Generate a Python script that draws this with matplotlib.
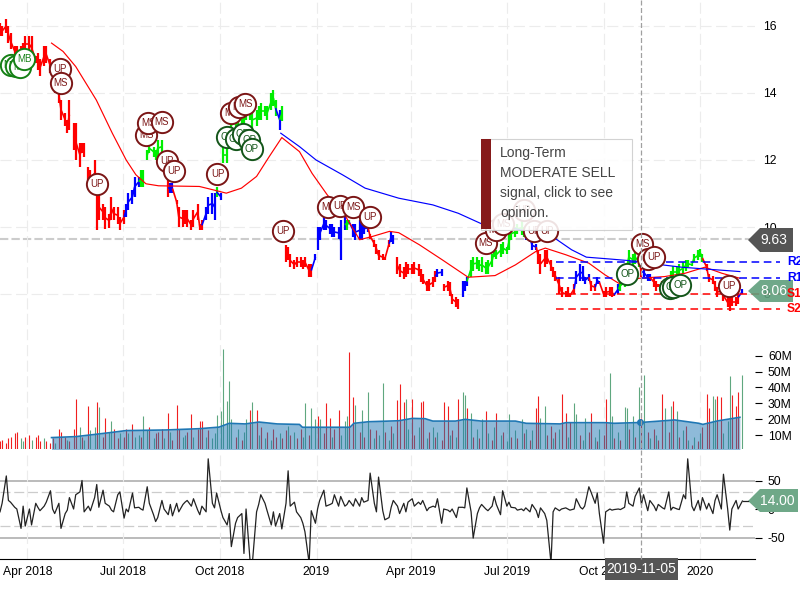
import numpy as np
import pandas as pd
import matplotlib
matplotlib.use('Agg')  # no display here
import matplotlib.pyplot as plt
import matplotlib.dates as mdates
from matplotlib.collections import LineCollection
from matplotlib.patches import Polygon, Rectangle

plt.rcParams['font.family'] = ['Liberation Sans', 'DejaVu Sans']

# one entry every two business days
first_date = '2018-03-06'
price_high = [
    16.1, 16.0, 16.2, 16.0, 15.8, 15.4, 15.4, 15.4, 15.5, 15.7, 15.7, 15.7, 15.1, 15.2, 15.0, 15.4,
    15.4, 15.0, 14.8, 14.5, 14.2, 13.8, 13.4, 13.2, 13.8, 13.1, 13.1, 12.5, 12.5, 12.5, 11.8, 11.7,
    12.0, 11.3, 11.0, 10.7, 10.6, 10.4, 10.9, 10.6, 10.6, 10.3, 10.5, 10.7, 11.0, 11.1, 11.5, 11.5,
    11.7, 11.7, 12.3, 12.5, 12.4, 12.3, 12.6, 12.6, 12.0, 11.4, 11.3, 11.3, 10.8, 10.6, 10.5, 10.5,
    10.5, 10.2, 10.5, 10.7, 10.1, 10.2, 10.6, 10.9, 11.0, 11.0, 11.2, 11.0, 12.4, 12.4, 12.9, 13.2,
    13.3, 13.3, 13.5, 13.4, 13.6, 13.7, 13.5, 13.5, 13.6, 13.7, 13.6, 13.6, 14.0, 14.1, 13.8, 13.5,
    13.6, 9.45, 9.4, 9.2, 9.0, 9.1, 9.1, 9.0, 9.1, 8.9, 8.9, 9.2, 10.0, 10.0, 10.3, 10.2,
    10.1, 10.1, 10.0, 10.0, 10.2, 10.3, 10.2, 10.2, 10.1, 10.1, 10.2, 10.2, 10.1, 10.1, 9.8, 9.6,
    9.5, 9.3, 9.2, 9.1, 9.6, 9.85, 9.75, 9.1, 8.9, 8.8, 8.95, 8.9, 8.9, 8.95, 8.9, 8.75,
    8.6, 8.4, 8.45, 8.5, 8.7, 8.75, 8.75, 8.3, 8.4, 8.35, 8.0, 7.9, 7.85, 8.4, 8.4, 8.5,
    9.0, 9.1, 9.1, 9.0, 9.1, 8.95, 9.0, 9.2, 9.4, 9.3, 9.5, 9.55, 9.4, 9.8, 10.0, 10.0,
    10.1, 10.2, 10.0, 9.8, 9.85, 9.6, 9.5, 9.3, 9.2, 9.3, 9.3, 9.0, 8.8, 8.7, 8.5, 8.2,
    8.1, 8.2, 8.0, 8.3, 8.7, 8.9, 8.85, 8.5, 8.6, 8.4, 8.3, 8.5, 8.4, 8.1, 8.2, 8.2,
    8.2, 8.0, 8.3, 8.4, 8.5, 8.9, 9.3, 9.2, 9.3, 9.1, 8.8, 8.8, 8.6, 8.6, 8.5, 8.4,
    8.3, 8.4, 8.2, 8.5, 8.7, 8.85, 8.8, 8.9, 8.95, 9.0, 9.0, 8.9, 9.2, 9.3, 9.35, 9.2,
    8.9, 8.6, 8.55, 8.4, 8.2, 8.2, 8.1, 7.9, 7.95, 7.9, 7.9, 8.1, 8.15,
]
price_low = [
    15.7, 15.7, 15.8, 15.5, 15.3, 15.1, 15.1, 15.0, 15.1, 15.2, 15.2, 15.0, 14.9, 14.7, 14.5, 14.8,
    14.9, 14.6, 14.4, 14.0, 13.7, 13.2, 13.0, 12.8, 12.9, 12.3, 12.0, 11.8, 12.2, 12.1, 11.4, 11.2,
    11.2, 9.9, 10.2, 10.2, 9.95, 9.98, 10.2, 10.2, 10.1, 9.9, 10.1, 10.3, 10.5, 10.7, 10.9, 11.2,
    11.2, 11.2, 12.0, 12.2, 12.1, 12.0, 12.1, 12.2, 11.6, 10.9, 11.0, 11.0, 10.7, 10.0, 10.0, 10.1,
    10.0, 9.9, 10.0, 10.2, 9.9, 9.9, 10.2, 10.4, 10.4, 10.2, 10.9, 10.8, 11.9, 11.9, 12.4, 12.9,
    12.9, 13.0, 13.0, 13.1, 13.2, 13.2, 12.9, 13.0, 13.2, 13.2, 13.3, 13.2, 13.5, 13.6, 13.3, 12.9,
    13.15, 8.95, 9.0, 8.8, 8.75, 8.8, 8.8, 8.75, 8.8, 8.5, 8.5, 9.0, 9.3, 9.6, 9.9, 9.9,
    9.8, 9.7, 9.7, 9.65, 9.0, 9.9, 9.9, 10.1, 9.7, 9.6, 9.6, 9.6, 9.8, 9.85, 9.65, 9.4,
    9.2, 9.0, 9.0, 9.0, 9.4, 9.55, 9.5, 8.6, 8.5, 8.45, 8.5, 8.6, 8.6, 8.6, 8.55, 8.35,
    8.3, 8.1, 8.1, 8.2, 8.35, 8.5, 8.55, 8.1, 8.1, 7.95, 7.7, 7.6, 7.55, 7.9, 8.1, 8.25,
    8.5, 8.7, 8.75, 8.7, 8.65, 8.6, 8.6, 8.8, 9.1, 9.05, 9.1, 9.2, 9.2, 9.3, 9.6, 9.7,
    9.8, 9.75, 9.7, 9.6, 9.55, 9.3, 9.3, 8.9, 8.6, 8.8, 8.9, 8.7, 8.5, 8.4, 8.0, 7.9,
    7.9, 7.9, 7.9, 8.0, 8.3, 8.4, 8.4, 8.3, 8.4, 8.1, 8.1, 8.3, 8.3, 7.9, 7.9, 7.95,
    7.9, 7.95, 8.0, 8.1, 8.2, 8.7, 8.9, 8.85, 8.9, 8.8, 8.5, 8.5, 8.4, 8.4, 8.2, 8.1,
    8.2, 8.2, 7.9, 8.1, 8.4, 8.45, 8.5, 8.5, 8.6, 8.7, 8.8, 8.85, 8.95, 9.0, 9.1, 8.95,
    8.7, 8.35, 8.3, 8.1, 7.9, 8.0, 7.8, 7.6, 7.5, 7.65, 7.65, 7.7, 8.0,
]
# signal colour of the bars: (colour, number of bars)
price_runs = [
    ('r', 43), ('b', 5), ('g', 8), ('r', 2), ('b', 2), ('r', 10), ('b', 4), ('g', 1), ('b', 1),
    ('g', 19), ('b', 1), ('g', 1), ('r', 10), ('b', 11), ('g', 2), ('b', 6), ('r', 7), ('b', 2),
    ('r', 14), ('b', 2), ('r', 6), ('b', 3), ('g', 19), ('b', 4), ('r', 13), ('b', 5), ('r', 2),
    ('b', 2), ('r', 5), ('b', 1), ('g', 7), ('r', 1), ('b', 3), ('r', 5), ('b', 1), ('g', 12),
    ('r', 12), ('b', 1),
]

volume = [
    6, 7, 5, 8, 9, 11, 12, 8, 6, 9, 10, 7, 9, 10, 6, 8,
    6, 5, 8, 5, 14, 12, 9, 7, 6, 14, 32.5, 15, 9, 7, 28, 13,
    15, 30.6, 27.5, 9, 21, 12, 19, 14, 8, 11, 9, 14, 11, 17, 9, 10,
    9, 22, 13, 15, 8, 11, 12, 14, 8, 24, 12, 7, 29, 14, 9, 10,
    12, 23, 9, 14, 19, 19, 9, 13, 8, 11, 22.6, 25, 64, 31.5, 44, 20,
    9, 14, 7, 12, 20, 26, 31, 26, 10, 15, 8, 12, 7, 14, 9, 11,
    8, 13, 16, 10, 12, 8, 14, 9, 30, 10, 27, 20, 22, 20, 11, 30,
    21, 9, 14, 26, 10, 19, 22, 62.5, 34, 29, 12, 26, 9, 37, 14, 8,
    13, 10, 42.6, 12, 7, 16, 11, 32, 42, 31, 33, 14, 32.5, 10, 15, 31,
    31.5, 8, 12, 15, 9, 12, 7, 30.6, 28.5, 10, 13, 9, 33, 37, 35, 27,
    24, 9, 14, 8, 20, 25, 11, 7, 15, 23.7, 10, 12, 6, 23, 9, 13,
    8, 20, 11, 14, 7, 13, 26.8, 34.6, 21, 28, 10, 16, 8, 12, 14, 36,
    24, 9, 18, 30, 23, 10, 7, 21, 12, 24, 9, 6, 14, 10, 33, 49,
    22, 8, 12, 7, 27.5, 27, 14, 22, 9, 40, 21, 47.8, 12, 8, 14, 10,
    7, 35.6, 27, 12, 28, 31.7, 25, 9, 13, 16, 7, 4, 9, 6, 11, 15,
    35.6, 27, 34.8, 32.5, 34.8, 33.8, 11, 19, 47, 35, 28.5, 37, 48,
]
volume_side = (
    'rrrrrrrggrrgrrrg' 'rrrgrrrgrrrgrgrg' 'grgrrggrrgrrgrgg' 'rggrgrrrgrgrrrgg'
    'rrgrrrgrgggggggg' 'rgrggrgrgrgrgrrg' 'rrgrgrrggrggrgrr' 'rgrrgggrrgrgrgrg'
    'rggrgrgrrrggrrgr' 'rgrgrgrrrgrgrggr' 'grgrgrgrgrgrggrg' 'rgrgrgrrggrrgrgr'
    'rgrggrggrrgrgrrg' 'grgrggrgrgrgrgrg' 'rrgrgrgrgrgrgrgr' 'rrggrrgggrrrg'
)
cci = [
    -5, 10, 58, 15, 12, 3, 0, -34, 5, -30, 0, -28, 10, 3, -3, 5,
    12, 32, 0, -8, 10, -34, -8, -2, 20, 0, 25, 30, 50, -5, 5, -3,
    20, 43, 3, 33, 10, 5, -2, -5, 25, 30, -16, 0, -5, 28, 2, 3,
    0, -2, 39, 10, -10, -22, -15, 15, 0, -10, 8, -12, 10, -5, 8, 12,
    15, 5, 18, -2, -10, 5, -5, 88, 10, 2, 28, -2, -15, -28, -8, -66,
    -25, -15, -8, -78, 0, -95, -95, -5, 8, 25, 10, -3, -28, -5, -30, -8,
    -35, 10, 67, 5, 12, -5, -15, -25, -40, -95, -3, -25, 0, 15, 33, 5,
    8, 10, 25, 5, 22, 5, 8, 15, 5, 18, 5, 20, 12, 15, 63, 10,
    -5, 56, -3, -19, -15, 3, 15, 5, -8, 10, -5, 12, 18, 5, 12, 8,
    15, -3, 2, 5, 3, 18, -25, 0, -2, -5, 0, -15, 3, 3, 2, 37,
    -5, -51, -8, 2, 8, 0, -3, 5, 22, 8, -10, 32, 5, 12, 3, 2,
    -2, 0, -3, 2, -5, 8, -3, -15, 2, -8, -20, -95, -5, 2, -3, 0,
    2, 0, -2, 0, 18, 3, 0, 5, 39, 30, 10, 28, -8, -60, -5, 0,
    -2, -1, 0, -1, 3, 30, 10, 5, 22, 37, 8, 25, -3, 15, 5, -3,
    8, 2, 0, 30, -2, 3, 0, -1, 25, 18, 88, 5, -3, 15, -2, 20,
    0, 10, -8, 15, 25, 0, 61, 0, -37, 0, 15, 0, 14,
]

# moving averages, positions given as bar numbers
red_ma_bars = [17.5, 21.5, 26, 32.8, 38.4, 43, 46.3, 49.7, 54.2, 67.8, 72.3, 76.8, 81.9, 87, 91.5, 96,
               101.7, 106.2, 111.3, 117.5, 122, 126.6, 132.2, 135.6, 142.4, 150.3, 159.3, 168.4, 175.1,
               181.9, 185.3, 192.1, 200, 205.7, 210.2, 217, 226, 232.8, 239.6, 245.2, 251.4]
red_ma = [15.49, 15.24, 14.79, 13.79, 12.8, 12.0, 11.56, 11.29, 11.23, 11.21, 11.11, 11.01, 11.16, 11.51, 12.1, 12.67,
          12.25, 11.6, 10.96, 10.3, 9.62, 9.72, 9.87, 9.83, 9.47, 9.02, 8.5, 8.55, 8.87,
          9.27, 9.37, 9.17, 8.92, 8.57, 8.32, 8.47, 8.52, 8.62, 8.8, 8.62, 8.47]
blue_ma_bars = [95.5, 101.7, 107.3, 116.4, 124.3, 135.6, 146.9, 155.9, 163.8, 175.1, 188.7, 194.4, 199.4,
                207.9, 217, 224.9, 231.6, 240.7, 251.4]
blue_ma = [12.8, 12.4, 12.0, 11.56, 11.16, 10.86, 10.66, 10.41, 10.1, 9.95, 9.67, 9.32, 9.1,
           9.04, 8.97, 8.87, 8.8, 8.74, 8.67]
vol_ma_bars = [17.5, 26, 32.2, 38.4, 42.9, 56.5, 67.8, 74.6, 78, 83.6, 88.1, 94.4, 101.7, 102.8, 119.2, 120.3,
               125.4, 135.6, 140.1, 144.6, 146.9, 154.8, 158.2, 163.8, 175.1, 179.1, 190.4, 192.1, 205.7,
               209, 217.5, 229.4, 237.3, 239.1, 244.1, 251.4]
vol_ma = [8.4, 9, 10.4, 11.7, 12.8, 13.2, 14, 15, 17.4, 17, 18.2, 17, 16.7, 14.9, 14.9, 17.4,
          18.4, 19, 20.5, 20.3, 18.8, 18.8, 19.9, 18.8, 18.8, 17.4, 17, 17.8, 17.8,
          17.4, 17.9, 19.5, 17.4, 16.7, 18.9, 21.2]

# signal bubbles: bar number, price, label
bubble_bars = [4.1, 5.4, 6.8, 8.5, 20.7, 21, 33.2, 49.8, 50.5, 54.9, 56.6, 59.3, 74.2,
               79, 81.4, 83.7, 77, 80, 82.4, 84.7, 85.8, 96.3, 111.5, 115.6, 120, 125.8,
               165, 168.8, 171.2, 178, 181.4, 186, 213.2, 218.3, 220.3, 222, 227.5, 228.8, 231.2, 247.8]
bubble_prices = [14.84, 14.81, 14.78, 15.01, 14.72, 14.3, 11.28, 12.75, 13.1, 13.13, 11.97, 11.67, 11.58,
                 13.4, 13.58, 13.67, 12.69, 12.63, 12.78, 12.6, 12.33, 9.88, 10.6, 10.63, 10.6, 10.3,
                 9.52, 9.9, 10.09, 10.5, 9.88, 9.88, 8.6, 9.49, 9.04, 9.1, 8.18, 8.21, 8.27, 8.24]
bubble_labels = ['MB', 'MB', 'MB', 'MB', 'UP', 'MS', 'UP', 'MS', 'MS', 'MS', 'UP', 'UP', 'UP',
                 'MS', 'MS', 'MS', 'OP', 'OP', 'OP', 'OP', 'OP', 'UP', 'MS', 'UP', 'MS', 'UP',
                 'MS', 'MS', 'MS', 'UP', 'UP', 'UP', 'OP', 'MS', 'UP', 'UP', 'OP', 'OP', 'OP', 'UP']

level_names = ['R2', 'R1', 'S1', 'S2']
level_values = [8.955, 8.48, 8.0, 7.55]
level_colors = ['#0000ff', '#0000ff', '#ff0000', '#ff0000']

date_ticks = ['2018-04-01', '2018-07-01', '2018-10-01', '2019-01-01', '2019-04-01', '2019-07-01', '2019-10-01', '2020-01-01']
date_labels = ['Apr 2018', 'Jul 2018', 'Oct 2018', '2019', 'Apr 2019', 'Jul 2019', 'Oct 2019', '2020']
volume_ticks = [10, 20, 30, 40, 50, 60]
cci_ticks = [-50, 0, 50]
cursor_date = '2019-11-05'
last_price = 9.63
cursor_price = '8.06'

W, H = 800, 600
AX_W = 755


def panel(top, bottom):
    a = fig.add_axes([0, 1 - bottom / H, AX_W / W, (bottom - top) / H])
    a.set_xlim(mdates.date2num(pd.Timestamp('2018-03-06')), mdates.date2num(pd.Timestamp('2020-02-22')))
    a.patch.set_alpha(0)
    for s in a.spines.values():
        s.set_visible(False)
    a.yaxis.tick_right()
    a.set_xticks(mdates.date2num(pd.to_datetime(date_ticks)))
    a.grid(axis='x', color='#ececec', lw=0.8, linestyle=(0, (10, 4)), zorder=0)
    a.tick_params(axis='x', length=0, labelbottom=False)
    a.tick_params(axis='y', length=5, width=0.8, pad=4.3, labelsize=8.7)
    return a


fig = plt.figure(figsize=(W / 100, H / 100), dpi=100)
ax_price = panel(0, 340)
ax_vol = panel(340, 449)
ax_cci = panel(455, 559)

n = len(price_high)
bar_x = mdates.date2num(pd.bdate_range(first_date, periods=2 * n)[::2])
bar_idx = np.arange(n)


def at_bar(pos):
    return np.interp(pos, bar_idx, bar_x)


# price panel
ax_price.set_ylim(16 - (340 - 26) / 33.5, 16 + 26 / 33.5)
ax_price.set_yticks([8, 10, 12, 14, 16])
ax_price.tick_params(axis='y', length=0, pad=5.8)
ax_price.grid(axis='y', color='#ececec', lw=0.8, linestyle=(0, (10, 4)), zorder=0)
price_colors = []
for c, count in price_runs:
    price_colors += [{'r': '#ff0000', 'g': '#00ee00', 'b': '#0000ff'}[c]] * count
price_colors = price_colors[:n] + ['#ff0000'] * (n - len(price_colors))
ax_price.vlines(bar_x, price_low, price_high, colors=price_colors, lw=1.6, zorder=2)
# join neighbouring bars so the daily bars read as one band, but keep the real gaps
mid = (np.array(price_high) + np.array(price_low)) / 2
segments = []
segment_colors = []
for i in range(1, n):
    if abs(mid[i] - mid[i - 1]) < 0.45:
        segments.append([(bar_x[i - 1], mid[i - 1]), (bar_x[i], mid[i])])
        segment_colors.append(price_colors[i])
ax_price.add_collection(LineCollection(segments, colors=segment_colors, lw=1.2, zorder=2))
ax_price.axhline(last_price, color='#cccccc', lw=1.5, linestyle=(0, (4, 1.5)), zorder=1)
ax_price.plot(at_bar(red_ma_bars), red_ma, color='#ff0000', lw=0.85, zorder=3)
ax_price.plot(at_bar(blue_ma_bars), blue_ma, color='#0000ff', lw=0.85, zorder=3)

level_start = mdates.date2num(pd.Timestamp('2019-08-17'))
level_end = mdates.date2num(pd.Timestamp('2020-03-17'))
for value, color in zip(level_values, level_colors):
    ax_price.plot([level_start, level_end], [value, value], color=color, lw=1.1,
                  linestyle=(0, (5, 3)), clip_on=False, zorder=4)

for i, (pos, price, label) in enumerate(zip(bubble_bars, bubble_prices, bubble_labels)):
    edge = {'MB': '#158015', 'OP': '#14561a'}.get(label, '#7b1616')
    ax_price.plot(at_bar(pos), price, 'o', ms=15.3, mfc='white', mec=edge, mew=1.4, zorder=10 + i)
    ax_price.text(at_bar(pos), price, label, color=edge, fontsize=7, ha='center', va='center', zorder=10 + i)

# volume panel
ax_vol.set_ylim((450.9 - 449) / 1.586, (450.9 - 340) / 1.586)
ax_vol.set_yticks(volume_ticks)
ax_vol.set_yticklabels([f'{v}M' for v in volume_ticks])
side_colors = ['#f01f1f' if s == 'r' else '#5fa77f' for s in volume_side]
ax_vol.vlines(bar_x, 0, volume, colors=side_colors, lw=0.8, zorder=2)
ax_vol.fill_between(at_bar(vol_ma_bars), 0, vol_ma, color='#1f77b4', alpha=0.5, lw=0, zorder=3)
ax_vol.plot(at_bar(vol_ma_bars), vol_ma, color='#1f77b4', lw=1.2, zorder=4)
ax_vol.plot(mdates.date2num(pd.Timestamp(cursor_date)), 18, 'o', color='#1f77b4', ms=4, zorder=5)

# oscillator panel
ax_cci.set_ylim((559 - 509) / -0.57, (509 - 455) / 0.57)
ax_cci.set_yticks(cci_ticks)
ax_cci.set_yticklabels(['-50', '0', '50'])
ax_cci.axhline(50, color='#bbbbbb', lw=1.4, zorder=1)
ax_cci.axhline(-50, color='#bbbbbb', lw=1.4, zorder=1)
ax_cci.axhline(30, color='#cccccc', lw=0.9, linestyle=(0, (8, 3)), zorder=1)
ax_cci.axhline(-30, color='#cccccc', lw=0.9, linestyle=(0, (8, 3)), zorder=1)
ax_cci.plot(bar_x, cci, color='#222222', lw=0.9, zorder=3)
ax_cci.spines['bottom'].set_visible(True)
ax_cci.spines['bottom'].set_color('black')
ax_cci.tick_params(axis='x', labelbottom=True, pad=5, labelsize=8.7)
ax_cci.set_xticklabels(date_labels)

# overlay for cursor, tags and the tooltip, in pixels
over = fig.add_axes([0, 0, 1, 1], zorder=50)
over.set_xlim(0, W)
over.set_ylim(H, 0)
over.axis('off')
over.plot([641, 641], [0, 559], color='#a0a0a0', lw=0.9, linestyle=(0, (4, 2)))
over.plot([743, 748], [501, 501], color='#222222', lw=0.9)

over.add_patch(Polygon([(748, 240), (760, 228), (793, 228), (793, 252), (760, 252)], fc='#555555', ec='none'))
over.text(774, 240, f'{last_price:.2f}', color='white', fontsize=10, ha='center', va='center')
over.add_patch(Polygon([(748, 291), (760, 280), (793, 280), (793, 302), (760, 302)], fc='#5f9f7c', ec='none', alpha=0.9))
over.text(774, 291, cursor_price, color='white', fontsize=10, ha='center', va='center')
over.add_patch(Polygon([(748, 501), (760, 489), (798, 489), (798, 512), (760, 512)], fc='#6fa888', ec='none'))
over.text(777, 501, '14.00', color='white', fontsize=10, ha='center', va='center')
over.add_patch(Rectangle((605, 558), 73, 22, fc='#555555', ec='none'))
over.text(641.5, 569, cursor_date, color='white', fontsize=10, ha='center', va='center')

# level names go over the tags
for name, value, color in zip(level_names, level_values, level_colors):
    y = 26 + (16 - value) * 33.5
    over.text(787, y, name, color=color, fontsize=8.7, fontweight='bold', va='center', clip_on=False)

over.add_patch(Rectangle((481, 139), 151, 91, fc='white', ec='#cccccc', lw=0.8, alpha=0.88))
over.add_patch(Rectangle((481, 139), 10, 90, fc='#861a1a', ec='none'))
for y, line in zip([153, 173, 193, 213], ['Long-Term', 'MODERATE SELL', 'signal, click to see', 'opinion.']):
    over.text(500, y, line, color='#444444', fontsize=10, va='center')

fig.savefig('out.png', dpi=100)
